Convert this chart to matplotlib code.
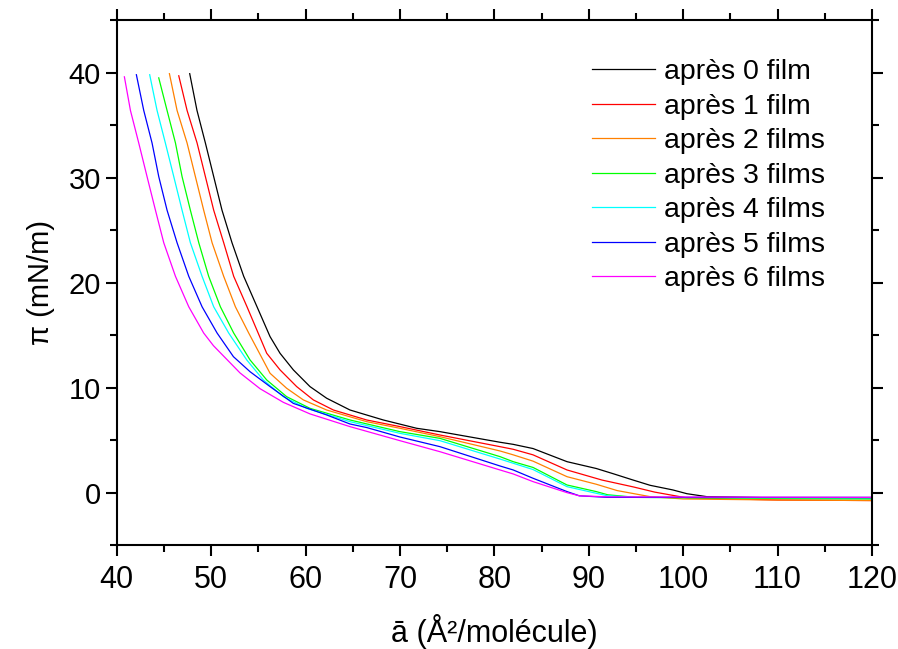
import matplotlib
matplotlib.use("Agg")
from matplotlib import pyplot as plt
from matplotlib.ticker import MultipleLocator

# isothermes pi-A : valeurs
x0 = [47.73, 48.5, 49.39, 50.27, 51.15, 52.21, 53.45, 54.86, 56.24, 57.3, 58.71, 60.47,
      62.24, 64.71, 68.24, 71.77, 74.24, 80.6, 82.0, 84.1, 87.7, 90.8, 92.6, 94.7,
      96.5, 98.9, 100.4, 102.5, 110.0, 120.0]
y0 = [39.9, 36.4, 33.3, 30.1, 26.9, 23.8, 20.6, 17.7, 14.86, 13.27, 11.69, 10.1,
      8.99, 7.87, 6.92, 6.13, 5.81, 4.8, 4.6, 4.2, 2.95, 2.3, 1.8, 1.2,
      0.7, 0.26, -0.1, -0.38, -0.5, -0.55]

x1 = [46.57, 47.45, 48.51, 49.39, 50.27, 51.33, 52.39, 53.8, 55.89, 57.3, 59.06, 60.83,
      62.95, 66.48, 70.0, 74.24, 80.6, 82.0, 84.1, 87.7, 91.4, 94.7, 97.0, 100.4, 110.0, 120.0]
y1 = [39.7, 36.4, 33.3, 30.1, 26.9, 23.8, 20.6, 17.7, 13.27, 11.69, 10.1, 8.83,
      7.87, 6.92, 6.29, 5.49, 4.38, 4.13, 3.6, 2.16, 1.2, 0.55, 0.05, -0.5, -0.7, -0.75]

x2 = [45.58, 46.39, 47.45, 48.33, 49.21, 50.1, 51.33, 52.57, 53.98, 56.24, 58.0, 59.77,
      62.24, 66.48, 70.0, 74.24, 80.6, 82.0, 84.1, 87.7, 90.8, 93.0, 96.5, 100.0, 110.0, 120.0]
y2 = [39.9, 36.4, 33.3, 30.1, 26.9, 23.8, 20.6, 17.7, 15.2, 11.37, 9.94, 8.83,
      7.87, 6.76, 6.13, 5.33, 3.97, 3.6, 3.0, 1.52, 0.8, 0.2, -0.38, -0.6, -0.7, -0.75]

x3 = [44.45, 45.33, 46.22, 46.92, 47.8, 48.69, 49.74, 50.98, 52.39, 54.12, 55.89, 58.0,
      60.47, 64.71, 70.0, 74.24, 80.6, 82.0, 84.1, 87.7, 90.8, 92.0, 95.0, 110.0, 120.0]
y3 = [39.5, 36.4, 33.3, 30.1, 26.9, 23.8, 20.6, 17.7, 15.2, 12.64, 10.73, 9.14,
      8.03, 6.92, 5.81, 5.17, 3.43, 2.95, 2.4, 0.73, 0.1, -0.2, -0.45, -0.55, -0.6]

x4 = [43.49, 44.27, 45.15, 46.04, 46.92, 47.8, 49.04, 50.27, 51.86, 53.77, 55.53, 57.65,
      60.12, 64.71, 70.0, 74.24, 80.6, 82.0, 84.1, 87.7, 90.8, 92.0, 95.0, 120.0]
y4 = [39.8, 36.4, 33.3, 30.1, 26.9, 23.8, 20.6, 17.7, 15.2, 12.64, 10.73, 9.14,
      8.03, 6.76, 5.65, 4.95, 3.2, 2.8, 2.2, 0.57, -0.06, -0.3, -0.45, -0.5]

x5 = [42.08, 42.86, 43.74, 44.45, 45.33, 46.39, 47.63, 49.04, 50.63, 52.36, 54.12, 56.24,
      58.71, 62.24, 64.7, 66.48, 70.0, 74.24, 80.6, 82.0, 84.1, 87.7, 89.0, 92.0, 120.0]
y5 = [39.8, 36.4, 33.3, 30.1, 26.9, 23.8, 20.6, 17.7, 15.2, 12.95, 11.52, 10.1,
      8.5, 7.4, 6.54, 6.2, 5.3, 4.38, 2.54, 2.16, 1.37, 0.1, -0.3, -0.45, -0.45]

x6 = [40.81, 41.45, 42.33, 43.21, 44.1, 44.98, 46.22, 47.63, 49.21, 50.24, 51.65, 53.06,
      55.18, 57.65, 60.47, 64.7, 70.0, 74.24, 80.6, 82.0, 84.1, 87.7, 89.0, 92.0, 120.0]
y6 = [39.6, 36.4, 33.3, 30.1, 26.9, 23.8, 20.6, 17.7, 15.2, 14.0, 12.7, 11.4,
      9.9, 8.6, 7.5, 6.29, 4.95, 3.9, 2.16, 1.78, 1.05, 0.0, -0.3, -0.4, -0.45]

labels = ['après 0 film', 'après 1 film', 'après 2 films', 'après 3 films',
          'après 4 films', 'après 5 films', 'après 6 films']
colors = ['#000000', '#ff0000', '#ff8000', '#00ff00', '#00ffff', '#0000ff', '#ff00ff']

plt.rcParams['font.family'] = ['Liberation Sans', 'DejaVu Sans']

fig = plt.figure(figsize=(8.98, 6.49), dpi=100)
ax = fig.add_axes([0.130, 0.160, 0.841, 0.809])

for xs, ys, c, lab in zip([x0, x1, x2, x3, x4, x5, x6], [y0, y1, y2, y3, y4, y5, y6], colors, labels):
    ax.plot(xs, ys, color=c, lw=0.9, label=lab)

ax.set_xlim(40, 120)
ax.set_ylim(-5, 45)
ax.xaxis.set_major_locator(MultipleLocator(10))
ax.xaxis.set_minor_locator(MultipleLocator(5))
ax.yaxis.set_major_locator(MultipleLocator(10))
ax.yaxis.set_minor_locator(MultipleLocator(5))
ax.tick_params(which='both', direction='out', top=True, right=True, width=1.5)
ax.tick_params(which='major', length=8)
ax.tick_params(which='minor', length=5)
ax.tick_params(axis='y', labelsize=21)
ax.tick_params(axis='x', labelsize=22, pad=6)
for s in ax.spines.values():
    s.set_linewidth(1.5)

ax.set_xlabel('ā (Å²/molécule)', fontsize=22, labelpad=14)
ax.set_ylabel('π (mN/m)', fontsize=21, labelpad=10)

ax.legend(loc='upper left', bbox_to_anchor=(0.629, 0.926), frameon=False, fontsize=20.5,
          borderpad=0, borderaxespad=0, handlelength=2.22, handletextpad=0.32,
          labelspacing=0.3)

plt.savefig('out.png', dpi=100)
